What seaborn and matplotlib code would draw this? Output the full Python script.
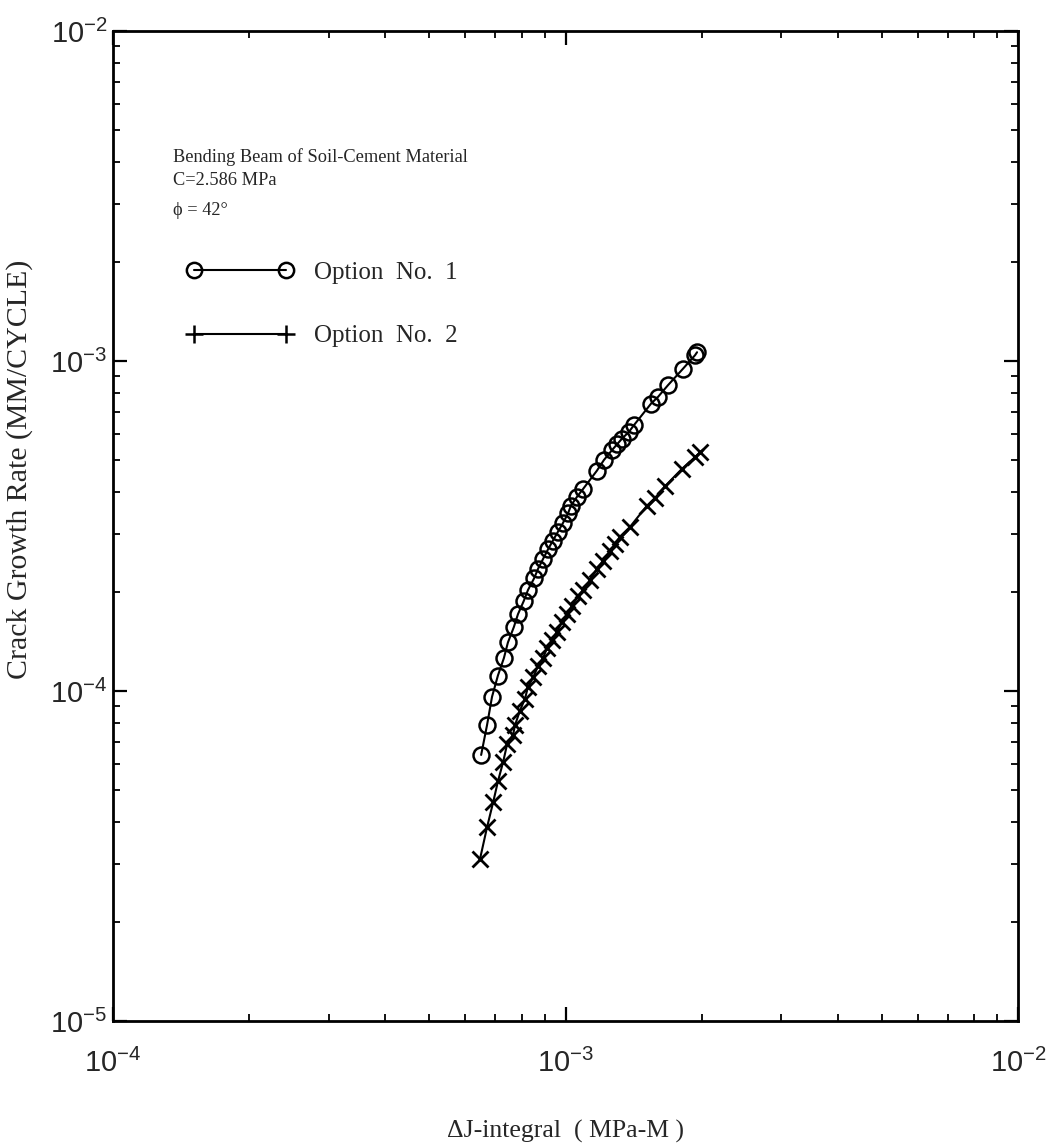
import matplotlib
matplotlib.use("Agg")
import matplotlib.pyplot as plt
from matplotlib.lines import Line2D
from matplotlib.ticker import LogLocator, NullFormatter, FixedLocator, FixedFormatter
import seaborn as sns
import pandas as pd

# Option No. 1 : delta J-integral (MPa-M) and crack growth rate (MM/CYCLE)
opt1_dj = [6.51e-4, 6.71e-4, 6.88e-4, 7.09e-4, 7.31e-4, 7.46e-4, 7.69e-4, 7.85e-4,
           8.09e-4, 8.26e-4, 8.52e-4, 8.70e-4, 8.92e-4, 9.15e-4, 9.38e-4, 9.62e-4,
           9.87e-4, 1.013e-3, 1.028e-3, 1.060e-3, 1.093e-3, 1.173e-3, 1.216e-3,
           1.266e-3, 1.299e-3, 1.333e-3, 1.381e-3, 1.417e-3, 1.545e-3, 1.601e-3,
           1.684e-3, 1.818e-3, 1.933e-3, 1.953e-3]
opt1_rate = [6.4e-5, 7.9e-5, 9.6e-5, 1.114e-4, 1.259e-4, 1.403e-4, 1.563e-4, 1.708e-4,
             1.877e-4, 2.022e-4, 2.193e-4, 2.348e-4, 2.512e-4, 2.688e-4, 2.857e-4,
             3.036e-4, 3.228e-4, 3.454e-4, 3.646e-4, 3.875e-4, 4.091e-4, 4.650e-4,
             5.012e-4, 5.363e-4, 5.585e-4, 5.817e-4, 6.099e-4, 6.395e-4, 7.423e-4,
             7.783e-4, 8.443e-4, 9.473e-4, 1.041e-3, 1.063e-3]

# Option No. 2
opt2_dj = [6.47e-4, 6.71e-4, 6.92e-4, 7.09e-4, 7.28e-4, 7.43e-4, 7.66e-4, 7.74e-4,
           7.93e-4, 8.14e-4, 8.26e-4, 8.48e-4, 8.70e-4, 8.92e-4, 9.10e-4, 9.34e-4,
           9.58e-4, 9.82e-4, 1.008e-3, 1.034e-3, 1.066e-3, 1.093e-3, 1.133e-3,
           1.173e-3, 1.210e-3, 1.254e-3, 1.286e-3, 1.319e-3, 1.388e-3, 1.514e-3,
           1.577e-3, 1.659e-3, 1.809e-3, 1.933e-3, 1.983e-3]
opt2_rate = [3.09e-5, 3.87e-5, 4.60e-5, 5.32e-5, 6.09e-5, 6.9e-5, 7.38e-5, 7.9e-5,
             8.72e-5, 9.49e-5, 1.028e-4, 1.099e-4, 1.192e-4, 1.259e-4, 1.347e-4,
             1.432e-4, 1.512e-4, 1.618e-4, 1.708e-4, 1.815e-4, 1.942e-4, 2.022e-4,
             2.164e-4, 2.348e-4, 2.478e-4, 2.652e-4, 2.780e-4, 2.936e-4, 3.141e-4,
             3.646e-4, 3.849e-4, 4.174e-4, 4.714e-4, 5.114e-4, 5.290e-4]

series_labels = ["Option  No.  1", "Option  No.  2"]
x_ticks = [1e-4, 1e-3, 1e-2]
x_tick_labels = [r"$10^{-4}$", r"$10^{-3}$", r"$10^{-2}$"]
y_ticks = [1e-5, 1e-4, 1e-3, 1e-2]
y_tick_labels = [r"$10^{-5}$", r"$10^{-4}$", r"$10^{-3}$", r"$10^{-2}$"]

sns.set_style("ticks")
plt.rcParams["font.family"] = ["Liberation Serif", "DejaVu Serif"]
plt.rcParams["mathtext.fontset"] = "custom"
plt.rcParams["mathtext.rm"] = "Liberation Sans"
plt.rcParams["mathtext.it"] = "Liberation Sans:italic"
plt.rcParams["mathtext.bf"] = "Liberation Sans:bold"

df1 = pd.DataFrame({"dj": opt1_dj, "rate": opt1_rate})
df2 = pd.DataFrame({"dj": opt2_dj, "rate": opt2_rate})

fig = plt.figure(figsize=(10.56, 11.46), dpi=100)
ax = fig.add_axes([113 / 1056, 1 - 1021 / 1146, 905 / 1056, 990 / 1146])

sns.lineplot(data=df1, x="dj", y="rate", ax=ax, sort=False, color="black",
             linewidth=1.5, marker="o", markersize=11.5, markerfacecolor="none",
             markeredgecolor="black", markeredgewidth=1.8)
sns.lineplot(data=df2, x="dj", y="rate", ax=ax, sort=False, color="black",
             linewidth=1.5, marker="x", markersize=11, markeredgecolor="black",
             markeredgewidth=2.0)

ax.set_xscale("log")
ax.set_yscale("log")
ax.set_xlim(1e-4, 1e-2)
ax.set_ylim(1e-5, 1e-2)

ax.xaxis.set_major_locator(FixedLocator(x_ticks))
ax.xaxis.set_major_formatter(FixedFormatter(x_tick_labels))
ax.yaxis.set_major_locator(FixedLocator(y_ticks))
ax.yaxis.set_major_formatter(FixedFormatter(y_tick_labels))
for axis in (ax.xaxis, ax.yaxis):
    axis.set_minor_locator(LogLocator(base=10, subs=range(2, 10)))
    axis.set_minor_formatter(NullFormatter())

ax.tick_params(which="both", direction="in", top=True, right=True, color="black")
ax.tick_params(which="major", length=10, width=1.6, labelsize=21)
ax.tick_params(which="minor", length=5, width=1.3)
ax.tick_params(axis="x", which="major", pad=20)
ax.tick_params(axis="y", which="major", pad=4)
for s in ax.spines.values():
    s.set_linewidth(2.0)
    s.set_color("black")

ax.set_xlabel("ΔJ-integral  ( MPa-M )", fontsize=18.5, labelpad=30)
ax.set_ylabel("Crack Growth Rate (MM/CYCLE)", fontsize=21.5)
ax.yaxis.set_label_coords(-0.088, 0.557)

txt = dict(transform=ax.transAxes, fontsize=13.2, va="center", ha="left")
ax.text(0.066, 0.873, "Bending Beam of Soil-Cement Material", **txt)
ax.text(0.066, 0.849, "C=2.586 MPa", **txt)
ax.text(0.066, 0.819, "ϕ = 42°", **txt)

handles = [
    Line2D([], [], color="black", linewidth=1.5, marker="o", markersize=11,
           markerfacecolor="none", markeredgewidth=1.8),
    Line2D([], [], color="black", linewidth=1.5, marker="+", markersize=13,
           markeredgewidth=1.8),
]
ax.legend(handles=handles, labels=series_labels, loc="upper left",
          bbox_to_anchor=(0.0807, 0.767), frameon=False, numpoints=2,
          handlelength=4.3, handletextpad=0.8, labelspacing=1.63,
          borderpad=0, borderaxespad=0, prop={"family": "Liberation Serif", "size": 18})

fig.savefig("out.png", dpi=100, facecolor="white")
